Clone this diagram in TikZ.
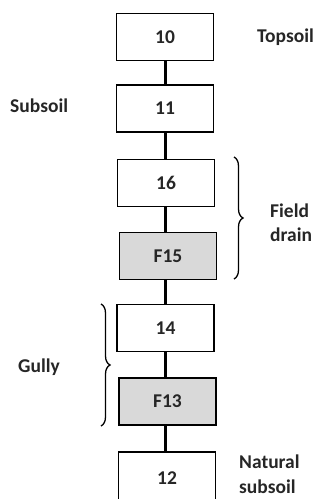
\documentclass[tikz,border=0pt]{standalone}
\usepackage{fontspec}
\setmainfont{Carlito}
\usetikzlibrary{decorations.pathreplacing}
\begin{document}
\begin{tikzpicture}[x=1pt,y=-1pt,
  ctx/.style={draw=black,line width=1.8pt,minimum width=97pt,minimum height=47pt,
    inner sep=0pt,font=\fontsize{19.5}{24}\selectfont\bfseries,text=black!85},
  fill ctx/.style={ctx,fill=black!15},
  link/.style={line width=3pt,black},
  lbl/.style={font=\fontsize{19.5}{24}\selectfont\bfseries,text=black!85,align=left,inner sep=0pt},
  grp/.style={decorate,decoration={brace,amplitude=9pt},line width=1.3pt}]
\useasboundingbox (0,0) rectangle (322,499);
\clip (0,0) rectangle (322,499);
% context boxes, top to bottom
\node[ctx] (c10) at (165,37) {10};
\node[ctx] (c11) at (165,108.5) {11};
\node[ctx] (c16) at (166,183) {16};
\node[fill ctx] (c15) at (168,256) {F15};
\node[ctx] (c14) at (165.5,328) {14};
\node[fill ctx] (c13) at (167.5,401.5) {F13};
\node[ctx,minimum height=52pt] (c12) at (167,478) {12};
% stratigraphic links
\draw[link] (c10.south -| 165,0) -- (c11.north -| 165,0);
\draw[link] (c11.south -| 165,0) -- (c16.north -| 165,0);
\draw[link] (c16.south -| 165,0) -- (c15.north -| 165,0);
\draw[link] (c15.south -| 165,0) -- (c14.north -| 165,0);
\draw[link] (c14.south -| 165,0) -- (c13.north -| 165,0);
\draw[link] (c13.south -| 165,0) -- (c12.north -| 165,0);
% grouping braces
\coordinate (fdTop) at (234,157);
\coordinate (fdBot) at (234,279);
\coordinate (gTop) at (101,304);
\coordinate (gBot) at (101,426);
\draw[grp] (fdTop) -- (fdBot);
\draw[grp] (gTop) -- (gBot);
% labels
\node[lbl,anchor=west] (topsoil) at (257,37) {Topsoil};
\node[lbl,anchor=west] (subsoil) at (10,106) {Subsoil};
\node[lbl,anchor=west] (fdrain) at (270,223) {Field\\drain};
\node[lbl,anchor=west] (gully) at (18,367) {Gully};
\node[lbl,anchor=west] (natural) at (239,474) {Natural\\[1pt]subsoil};
\end{tikzpicture}
\end{document}
